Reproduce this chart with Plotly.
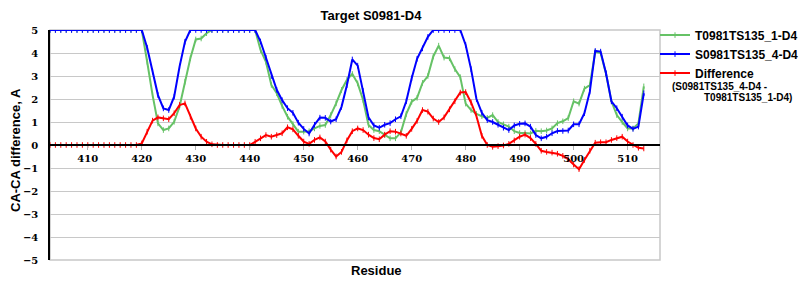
import plotly.graph_objects as go

residues = list(range(403, 514))

model_t = [5, 5, 5, 5, 5, 5, 5, 5, 5, 5, 5, 5, 5, 5, 5, 5, 5, 5,
           3.62, 2.17, 0.94, 0.65, 0.72, 1.01, 1.67, 2.75, 3.77, 4.59, 4.63, 4.86,
           5, 5, 5, 5, 5, 5, 5, 5, 5,
           4.13, 3.62, 2.61, 2.25, 1.70, 1.23, 0.91, 0.58, 0.58, 0.60, 0.72, 0.83, 0.87, 1.30, 1.81, 2.39,
           2.83, 3.09, 2.68, 1.96, 0.87, 0.65, 0.60, 0.43, 0.29, 0.29, 0.55, 1.35, 1.88, 2.05, 2.70, 3.00,
           3.85, 4.32, 3.80, 3.77, 3.30, 2.95, 1.80, 1.52, 1.35, 1.25, 1.18, 1.30, 1.00, 0.90, 0.80, 0.60,
           0.52, 0.52, 0.50, 0.62, 0.60, 0.63, 0.72, 0.95, 1.03, 1.17, 1.90, 1.80, 2.45, 2.60, 4.05, 4.00,
           3.10, 1.90, 1.30, 1.00, 0.72, 0.72, 0.94, 2.55]

model_s = [5, 5, 5, 5, 5, 5, 5, 5, 5, 5, 5, 5, 5, 5, 5, 5, 5, 5,
           4.23, 3.19, 2.17, 1.59, 1.52, 2.10, 3.41, 4.49,
           5, 5, 5, 5, 5, 5, 5, 5, 5, 5, 5, 5, 5,
           4.50, 3.80, 3.00, 2.40, 1.95, 1.60, 1.40, 0.97, 0.70, 0.50, 0.88, 1.19, 1.18, 1.02, 1.12, 1.66,
           2.60, 3.72, 3.45, 2.35, 1.20, 0.85, 0.75, 0.88, 0.95, 1.12, 1.25, 1.90, 2.90, 3.75, 4.20, 4.70,
           5, 5, 5, 5, 5, 5,
           4.35, 3.30, 2.00, 1.40, 1.08, 1.00, 0.88, 0.75, 0.65, 0.85, 0.92, 0.94, 0.80, 0.43, 0.29, 0.36,
           0.51, 0.61, 0.61, 0.63, 0.90, 0.90, 1.38, 2.32, 4.09, 4.06, 3.12, 1.90, 1.60, 1.23, 0.85, 0.70,
           0.80, 2.25]

difference = [0, 0, 0, 0, 0, 0, 0, 0, 0, 0, 0, 0, 0, 0, 0, 0, 0,
              0.07, 0.58, 1.06, 1.20, 1.16, 1.12, 1.38, 1.74, 1.81, 1.23, 0.72, 0.36, 0.14, 0.03,
              0, 0, 0, 0, 0, 0, 0,
              0.14, 0.29, 0.43, 0.36, 0.43, 0.51, 0.77, 0.68, 0.40, 0.15, 0.05, 0.22, 0.33, 0.15, -0.20,
              -0.50, -0.30, 0.20, 0.60, 0.72, 0.65, 0.45, 0.30, 0.25, 0.45, 0.60, 0.58, 0.50, 0.40, 0.70,
              1.05, 1.52, 1.45, 1.15, 1.00, 1.20, 1.55, 1.90, 2.28, 2.30, 1.85, 1.25, 0.40, 0.00, -0.08,
              -0.05, -0.02, 0.05, 0.20, 0.36, 0.45, 0.30, 0.05, -0.25, -0.30, -0.33, -0.38, -0.47, -0.62,
              -0.85, -1.05, -0.65, -0.25, 0.10, 0.12, 0.12, 0.22, 0.30, 0.36, 0.15, 0.00, -0.12, -0.15]

x_ticks = [410, 420, 430, 440, 450, 460, 470, 480, 490, 500, 510]
y_ticks = [5, 4, 3, 2, 1, 0, -1, -2, -3, -4, -5]

series = [
    ("T0981TS135_1-D4", model_t, "#66c266"),
    ("S0981TS135_4-D4", model_s, "#0000ff"),
    ("Difference", difference, "#ff0000"),
]

fig = go.Figure()
for name, vals, col in series:
    fig.add_trace(go.Scatter(
        x=residues, y=vals, name="<b>" + name + "</b>", mode="lines+markers",
        line=dict(color=col, width=2),
        marker=dict(symbol="line-ns", size=4, color=col,
                    line=dict(color=col, width=1)),
    ))

FONT = "Liberation Sans, Arial, sans-serif"

fig.update_layout(
    width=800, height=300,
    margin=dict(l=50, r=140, t=30, b=40, autoexpand=False),
    paper_bgcolor="white", plot_bgcolor="white",
    title=dict(text="<b>Target S0981-D4</b>", x=371 / 800, xanchor="center",
               xref="container", y=1 - 15 / 300, yref="container", yanchor="middle",
               font=dict(family=FONT, size=13, color="black")),
    showlegend=True,
    legend=dict(x=(655 - 50) / 610, xanchor="left", y=1.04, yanchor="top",
                font=dict(family=FONT, size=12, color="black", weight="bold"),
                bgcolor="rgba(0,0,0,0)", itemwidth=30, tracegroupgap=0,
                valign="top"),
    xaxis=dict(range=[403, 516.0], tickvals=x_ticks,
               ticktext=[str(t) for t in x_ticks],
               showgrid=False, zeroline=False,
               anchor="free", position=0.5,
               showline=True, linecolor="black", linewidth=1.5,
               ticks="outside", ticklen=4, tickcolor="#b0b0b0", tickwidth=1,
               tickfont=dict(family="DejaVu Serif", size=10, color="black", weight="bold")),
    yaxis=dict(range=[-5, 5], tickvals=y_ticks,
               showgrid=True, gridcolor="#c8c8c8", gridwidth=1,
               zeroline=False, showline=True, linecolor="black", linewidth=1.5,
               ticks="", ticklabelstandoff=8,
               tickfont=dict(family="DejaVu Serif", size=10, color="black", weight="bold")),
    shapes=[dict(type="rect", xref="paper", yref="paper", x0=0, x1=1, y0=0, y1=1,
                 line=dict(color="#c8c8c8", width=1.5), layer="below")],
    annotations=[
        dict(text="<b>Residue</b>", xref="paper", yref="paper",
             x=(376 - 50) / 610, y=(260 - 270) / 230, xanchor="center", yanchor="middle",
             showarrow=False, font=dict(family=FONT, size=13, color="black")),
        dict(text="<b>CA-CA difference, A</b>", xref="paper", yref="paper",
             x=(15 - 50) / 610, y=0.5 - 5 / 230, xanchor="center", yanchor="middle",
             textangle=-90, showarrow=False,
             font=dict(family=FONT, size=13, color="black")),
        dict(text="<b>(S0981TS135_4-D4 -</b>", xref="paper", yref="paper",
             x=(670 - 50) / 610, y=(260 - 86) / 230, xanchor="left", yanchor="middle",
             showarrow=False, font=dict(family=FONT, size=10, color="black")),
        dict(text="<b>T0981TS135_1-D4)</b>", xref="paper", yref="paper",
             x=(702 - 50) / 610, y=(260 - 98) / 230, xanchor="left", yanchor="middle",
             showarrow=False, font=dict(family=FONT, size=10, color="black")),
    ],
)

fig.write_html("out.html")
